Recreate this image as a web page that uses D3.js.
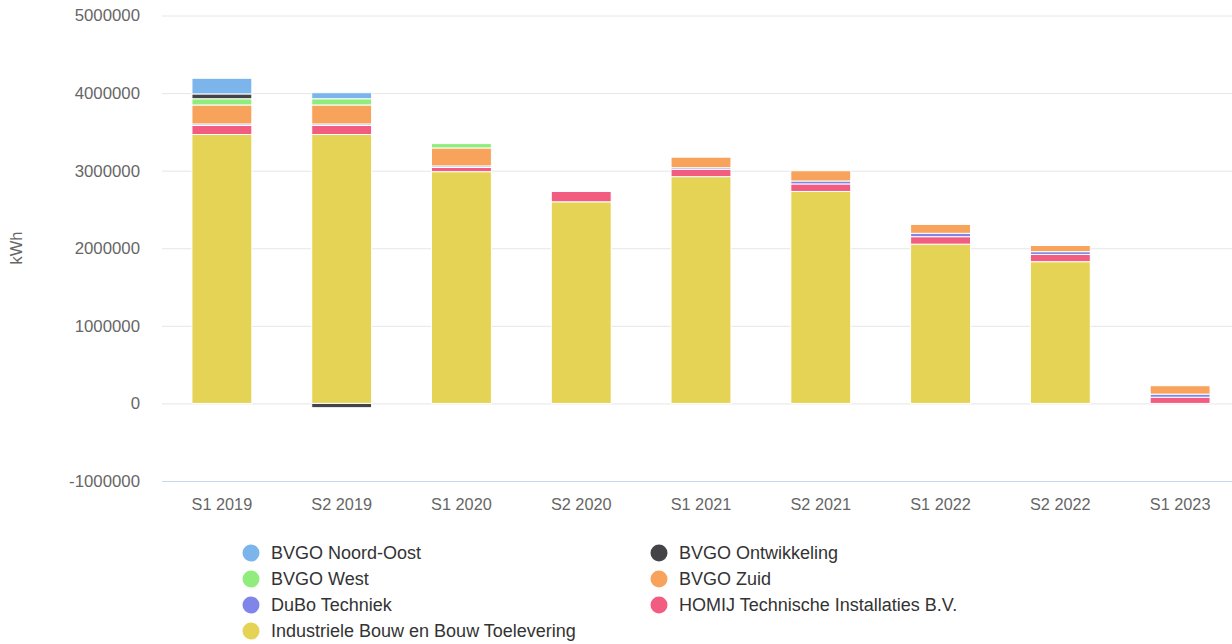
<!DOCTYPE html>
<html>
<head>
<meta charset="utf-8">
<script src="https://cdn.jsdelivr.net/npm/d3@7"></script>
<style>
  body { margin: 0; background: #fff; }
  text { font-family: "Liberation Sans", Arial, sans-serif; }
</style>
</head>
<body>
<div class="container"></div>
<script>

const categories = ['S1 2019', 'S2 2019', 'S1 2020', 'S2 2020', 'S1 2021', 'S2 2021', 'S1 2022', 'S2 2022', 'S1 2023'];

// kWh per periode, per bedrijf
const noordOost    = [202000, 78000, 0, 0, 0, 0, 0, 0, 0];
const ontwikkeling = [62000, -55000, 0, 0, 0, 0, 0, 0, 0];
const west         = [80000, 80000, 56000, 0, 0, 0, 0, 0, 0];
const zuid         = [245000, 245000, 232000, 0, 136000, 132000, 114000, 80000, 108000];
const dubo         = [20000, 20000, 20000, 0, 20000, 38000, 44000, 36000, 40000];
const homij        = [116000, 116000, 54000, 133000, 95000, 97000, 96000, 93000, 80000];
const industriele  = [3466000, 3466000, 2987000, 2599000, 2923000, 2732000, 2053000, 1827000, 0];

const yTicks = [-1000000, 0, 1000000, 2000000, 3000000, 4000000, 5000000];

// legend order (top of stack first)
const series = [
  { name: 'BVGO Noord-Oost', key: 'noordOost', values: noordOost, color: '#7cb5ec' },
  { name: 'BVGO Ontwikkeling', key: 'ontwikkeling', values: ontwikkeling, color: '#434348' },
  { name: 'BVGO West', key: 'west', values: west, color: '#90ed7d' },
  { name: 'BVGO Zuid', key: 'zuid', values: zuid, color: '#f7a35c' },
  { name: 'DuBo Techniek', key: 'dubo', values: dubo, color: '#8085e9' },
  { name: 'HOMIJ Technische Installaties B.V.', key: 'homij', values: homij, color: '#f15c80' },
  { name: 'Industriele Bouw en Bouw Toelevering', key: 'industriele', values: industriele, color: '#e4d354' }
];

const renderChart = () => {
  const width = 1232;
  const height = 644;
  const left = 162;
  const right = 1240;
  const top = 15.5;
  const bottom = 481;

  const rows = categories.map((c, i) => {
    const r = { cat: c };
    series.forEach(s => { r[s.key] = s.values[i]; });
    return r;
  });

  const keys = series.map(s => s.key).reverse(); // bottom first
  const stacked = d3.stack().keys(keys).offset(d3.stackOffsetDiverging)(rows);

  const xScale = d3.scaleBand()
    .domain(categories)
    .range([left, right])
    .paddingInner(0.5)
    .paddingOuter(0.25);

  const yScale = d3.scaleLinear()
    .domain([-1000000, 5000000])
    .range([bottom, top]);

  const svg = d3.select('.container')
    .append('svg')
    .attr('width', width)
    .attr('height', height);

  // grid + y labels
  const yAxis = svg.append('g')
    .attr('transform', `translate(${left},0)`)
    .call(d3.axisLeft(yScale).tickValues(yTicks).tickFormat(d => String(d)).tickSize(-(width - left)).tickPadding(22));
  yAxis.select('.domain').remove();
  yAxis.selectAll('.tick line').attr('stroke', '#e6e6e6');
  yAxis.selectAll('.tick text')
    .attr('fill', '#666')
    .attr('font-size', 16.8)
    .attr('font-family', '"Liberation Sans", Arial, sans-serif');

  svg.append('text')
    .attr('transform', 'translate(22,248) rotate(-90)')
    .attr('text-anchor', 'middle')
    .attr('fill', '#666')
    .attr('font-size', 16.5)
    .text('kWh');

  // bars
  const sColor = {};
  series.forEach(s => { sColor[s.key] = s.color; });

  svg.append('g')
    .selectAll('g')
    .data(stacked)
    .enter()
    .append('g')
    .attr('fill', d => sColor[d.key])
    .selectAll('rect')
    .data(d => d.filter(p => p[1] - p[0] !== 0))
    .enter()
    .append('rect')
    .attr('x', d => xScale(d.data.cat))
    .attr('width', xScale.bandwidth())
    .attr('y', d => yScale(Math.max(d[0], d[1])))
    .attr('height', d => Math.abs(yScale(d[0]) - yScale(d[1])))
    .attr('stroke', '#fff')
    .attr('stroke-width', 1);

  // x axis
  const xAxis = svg.append('g')
    .attr('transform', `translate(0,${bottom})`)
    .call(d3.axisBottom(xScale).tickSize(0).tickPadding(17));
  xAxis.select('.domain').attr('stroke', '#ccd6eb').attr('d', `M${left},0.5H${width}`);
  xAxis.selectAll('.tick text')
    .attr('fill', '#666')
    .attr('font-size', 16.3)
    .attr('font-family', '"Liberation Sans", Arial, sans-serif');

  // legend
  const legend = svg.append('g')
    .selectAll('g')
    .data(series)
    .enter()
    .append('g')
    .attr('transform', (d, i) => `translate(${i % 2 === 0 ? 251 : 659},${553 + Math.floor(i / 2) * 26})`);

  legend.append('circle')
    .attr('r', 8.5)
    .attr('fill', d => d.color);

  legend.append('text')
    .attr('x', 20)
    .attr('dy', '0.35em')
    .attr('fill', '#333')
    .attr('font-size', 18)
    .text(d => d.name);
};

renderChart();
</script>
</body>
</html>
